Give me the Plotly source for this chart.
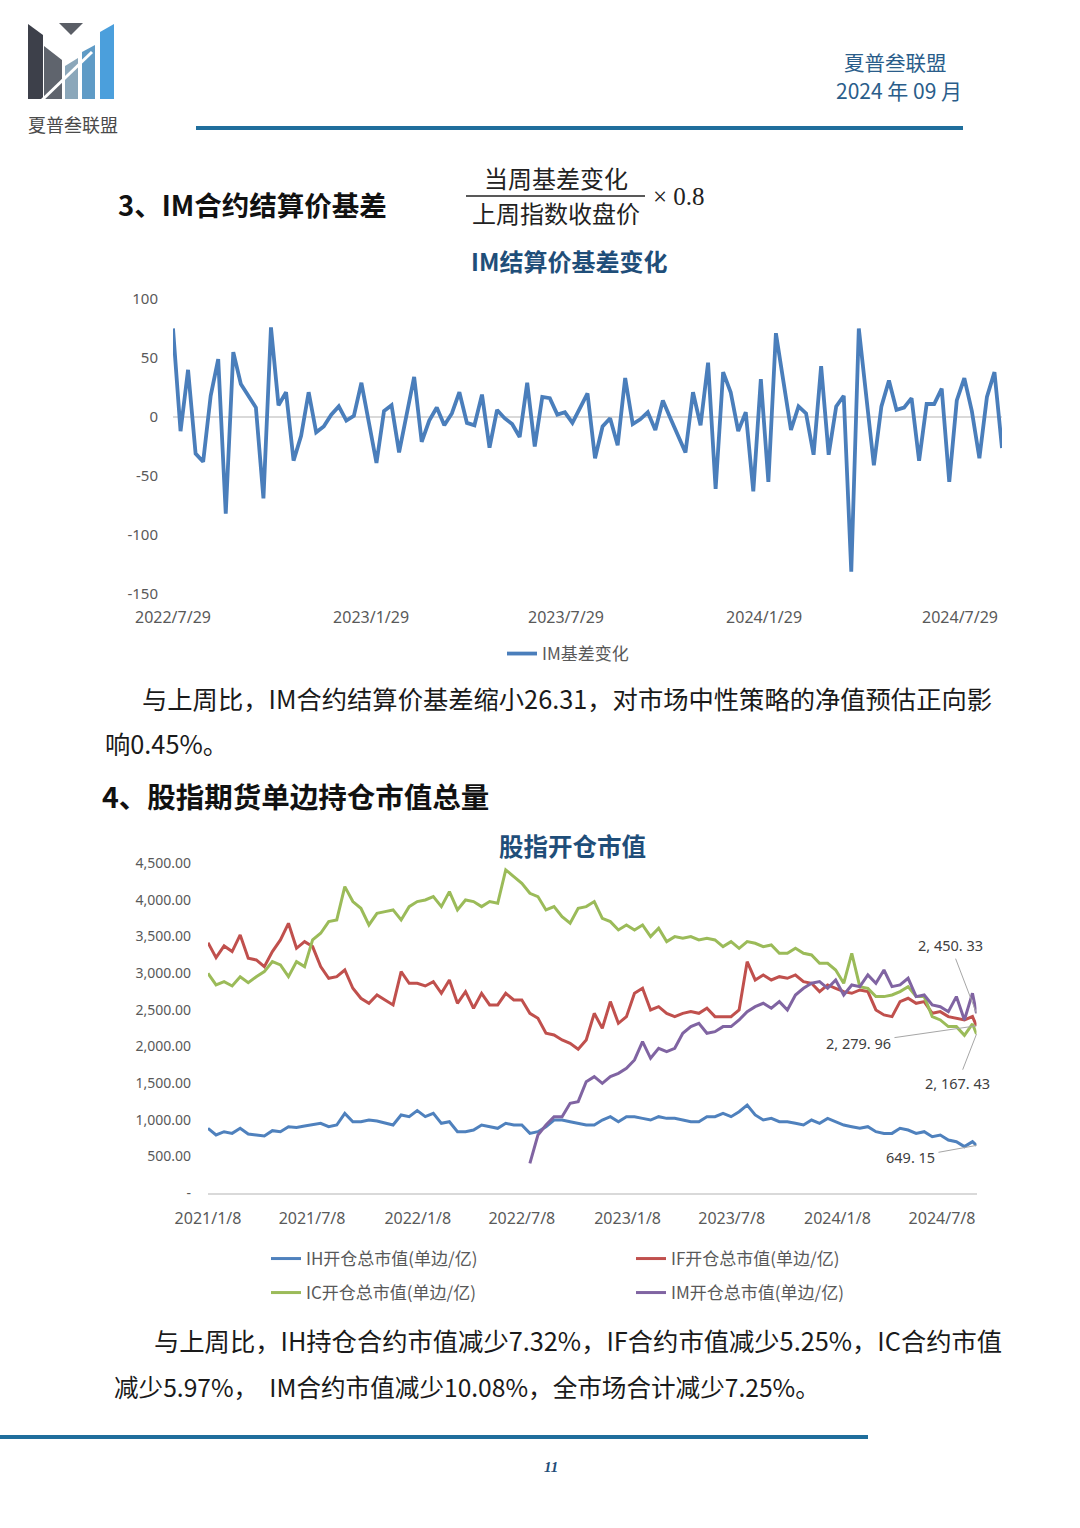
import plotly.graph_objects as go
import pandas as pd

W, H = 1080, 1528
CJK = "Noto Sans CJK SC"
LAT = "Noto Sans"

def px(x):
    return x / W

def py(y):
    return 1 - y / H

# ---------------- Chart 1 data: IM结算价基差变化 (weekly) ----------------
im_basis_dates = pd.date_range("2022-07-29", periods=111, freq="7D")
im_basis_change = [
    75, -12, 40, -31, -38, 18, 49, -82, 55, 28,
    18, 8, -69, 76, 10, 21, -37, -16, 21, -13,
    -8, 2, 9, -3, 1, 29, -5, -39, 5, 10,
    -30, 2, 34, -21, -3, 8, -7, 3, 21, -5,
    -7, 19, -26, 6, -1, -6, -17, 29, -25, 17,
    16, 2, 4, -5, 8, 20, -35, -8, -1, -24,
    33, -6, -2, 4, -11, 14, -1, -16, -30, 21,
    -7, 46, -61, 38, 21, -12, 4, -63, 32, -55,
    71, 30, -11, 9, 3, -32, 43, -32, 9, 18,
    -131, 75, 17, -41, 9, 31, 6, 8, 16, -37,
    11, 11, 24, -55, 14, 33, 5, -35, 17, 38,
    -26.31,
]
c1_tickvals = ["2022-07-29", "2023-01-29", "2023-07-29", "2024-01-29", "2024-07-29"]
c1_ticktext = ["2022/7/29", "2023/1/29", "2023/7/29", "2024/1/29", "2024/7/29"]
c1_yvals = [-150, -100, -50, 0, 50, 100]
c1_ytext = ["-150", "-100", "-50", "0", "50", "100"]

# ---------------- Chart 2 data: 股指开仓市值 (bi-weekly + latest) ----------------
pos_dates = list(pd.date_range("2021-01-08", periods=96, freq="14D")) + [pd.Timestamp("2024-09-06")]
ih_value = [
    882, 791, 836, 813, 882, 805, 791, 777, 850, 836,
    904, 895, 913, 927, 950, 904, 927, 1086, 972, 972,
    995, 982, 950, 927, 1064, 1041, 1123, 1041, 1086, 950,
    972, 836, 836, 859, 927, 904, 882, 950, 927, 927,
    813, 836, 904, 995, 995, 972, 950, 927, 927, 995,
    1041, 972, 1041, 1041, 1018, 995, 1041, 1018, 1018, 995,
    972, 972, 1041, 1041, 1086, 1041, 1109, 1200, 1064, 995,
    1018, 972, 972, 950, 927, 995, 950, 1018, 972, 927,
    904, 882, 904, 836, 813, 813, 882, 859, 813, 836,
    768, 791, 722, 700, 632, 700, 649.15,
]
if_value = [
    3414, 3210, 3369, 3292, 3519, 3201, 3178, 3087, 3292, 3451,
    3678, 3337, 3428, 3360, 3087, 2928, 2950, 3041, 2792, 2655,
    2587, 2700, 2632, 2564, 3019, 2860, 2860, 2823, 2882, 2723,
    2905, 2587, 2746, 2519, 2723, 2564, 2564, 2723, 2632, 2632,
    2450, 2382, 2178, 2155, 2087, 2041, 1960, 2087, 2450, 2246,
    2610, 2314, 2405, 2723, 2792, 2496, 2541, 2450, 2405, 2450,
    2473, 2450, 2519, 2405, 2405, 2405, 2496, 3155, 2905, 2973,
    2905, 2950, 2928, 2973, 2882, 2860, 2746, 2837, 2791, 2746,
    2723, 2769, 2746, 2496, 2428, 2405, 2610, 2655, 2587, 2610,
    2450, 2473, 2405, 2382, 2360, 2406, 2279.96,
]
ic_value = [
    2996, 2837, 2882, 2823, 2950, 2869, 2950, 3019, 3155, 3110,
    2950, 3155, 3087, 3451, 3542, 3701, 3724, 4178, 3974, 3883,
    3655, 3814, 3837, 3860, 3724, 3905, 3974, 3996, 4042, 3905,
    4110, 3860, 3996, 3974, 3905, 3974, 3951, 4406, 4315, 4224,
    4087, 4042, 3860, 3905, 3769, 3678, 3883, 3905, 3974, 3746,
    3701, 3587, 3655, 3587, 3655, 3496, 3610, 3428, 3496, 3473,
    3496, 3451, 3473, 3451, 3360, 3428, 3337, 3428, 3405, 3360,
    3383, 3269, 3269, 3337, 3269, 3246, 3132, 3132, 3041, 2860,
    3269, 2814, 2791, 2678, 2678, 2700, 2746, 2814, 2678, 2678,
    2405, 2360, 2269, 2269, 2150, 2305, 2167.43,
]
im_value = [
    404, 791, 927, 1041, 1041, 1223, 1246, 1518, 1587, 1496,
    1587, 1632, 1700, 1814, 2064, 1837, 1973, 1928, 1973, 2178,
    2269, 2314, 2178, 2200, 2269, 2269, 2360, 2473, 2541, 2587,
    2519, 2610, 2496, 2700, 2791, 2860, 2882, 2791, 2905, 2700,
    2837, 2814, 2973, 2860, 3041, 2814, 2837, 2928, 2678, 2700,
    2564, 2541, 2473, 2678, 2360, 2725, 2450.33,
]
im_dates = pos_dates[40:]
c2_tickvals = ["2021-01-08", "2021-07-08", "2022-01-08", "2022-07-08",
               "2023-01-08", "2023-07-08", "2024-01-08", "2024-07-08"]
c2_ticktext = ["2021/1/8", "2021/7/8", "2022/1/8", "2022/7/8",
               "2023/1/8", "2023/7/8", "2024/1/8", "2024/7/8"]
c2_yvals = [0, 500, 1000, 1500, 2000, 2500, 3000, 3500, 4000, 4500]
c2_ytext = ["-", "500.00", "1,000.00", "1,500.00", "2,000.00", "2,500.00",
            "3,000.00", "3,500.00", "4,000.00", "4,500.00"]

C_IH, C_IF, C_IC, C_IM = "#4f81bd", "#c0504d", "#9bbb59", "#8064a2"

fig = go.Figure()

fig.add_trace(go.Scatter(
    x=im_basis_dates, y=im_basis_change, mode="lines", name="IM基差变化",
    line=dict(color="#4a7ebb", width=3.8), xaxis="x", yaxis="y", legend="legend",
))

fig.add_trace(go.Scatter(x=pos_dates, y=ih_value, mode="lines", name="IH开仓总市值(单边/亿)",
                         line=dict(color=C_IH, width=3), xaxis="x2", yaxis="y2", legend="legend2"))
fig.add_trace(go.Scatter(x=pos_dates, y=if_value, mode="lines", name="IF开仓总市值(单边/亿)",
                         line=dict(color=C_IF, width=3), xaxis="x2", yaxis="y2", legend="legend2"))
fig.add_trace(go.Scatter(x=pos_dates, y=ic_value, mode="lines", name="IC开仓总市值(单边/亿)",
                         line=dict(color=C_IC, width=3), xaxis="x2", yaxis="y2", legend="legend3"))
fig.add_trace(go.Scatter(x=im_dates, y=im_value, mode="lines", name="IM开仓总市值(单边/亿)",
                         line=dict(color=C_IM, width=3), xaxis="x2", yaxis="y2", legend="legend3"))

xtickfont = dict(family=LAT, size=16, color="#595959")
ytickfont = dict(family=LAT, size=15, color="#595959")

annotations = []

def txt(x, y, text, size, color="#1a1a1a", xanchor="center", family=CJK):
    annotations.append(dict(
        x=px(x), y=py(y), xref="paper", yref="paper", text=text, showarrow=False,
        xanchor=xanchor, yanchor="middle", font=dict(family=family, size=size, color=color),
    ))

txt(73, 124, "夏普叁联盟", 18, "#4a4a4a")
txt(895, 62, "夏普叁联盟", 20.5, "#2a5d8a")
txt(899, 90, "2024 年 09 月", 21, "#2a5d8a")
txt(116, 204, "<b>3、IM合约结算价基差</b>", 27.5, "#111111", xanchor="left")
txt(556, 177, "当周基差变化", 24, "#222222")
txt(556, 212, "上周指数收盘价", 24, "#222222")
txt(679, 196, "× 0.8", 25, "#222222", family="Liberation Serif")
txt(569, 261, "<b>IM结算价基差变化</b>", 24, "#1f4e79")
txt(140, 698, "与上周比，IM合约结算价基差缩小26.31，对市场中性策略的净值预估正向影", 25.3, xanchor="left")
txt(103, 743, "响0.45%。", 25.3, xanchor="left")
txt(100, 795, "<b>4、股指期货单边持仓市值总量</b>", 28.5, "#111111", xanchor="left")
txt(572, 845, "<b>股指开仓市值</b>", 24.5, "#1f4e79")
txt(152, 1340, "与上周比，IH持仓合约市值减少7.32%，IF合约市值减少5.25%，IC合约市值", 25.3, xanchor="left")
txt(112, 1386, "减少5.97%，  IM合约市值减少10.08%，全市场合计减少7.25%。", 24.6, xanchor="left")
txt(551, 1467, "<b><i>11</i></b>", 15, "#1f4e79", family="Liberation Serif")

# data labels with leader lines for the latest values
def dlabel(xv, yv, text, ax, ay):
    annotations.append(dict(
        x=xv, y=yv, xref="x2", yref="y2", text=text, showarrow=True,
        arrowhead=0, arrowwidth=1, arrowcolor="#a6a6a6", ax=ax, ay=ay,
        standoff=0, startstandoff=2,
        font=dict(family=LAT, size=14.5, color="#404040"),
    ))

last = pos_dates[-1]
dlabel(last, im_value[-1], "2, 450. 33", -26, -68)
dlabel(last, if_value[-1], "2, 279. 96", -118, 17)
dlabel(last, ic_value[-1], "2, 167. 43", -19, 49)
dlabel(last, ih_value[-1], "649. 15", -66, 12)

shapes = []

def hline(x0, x1, y, color, width):
    shapes.append(dict(type="line", xref="paper", yref="paper",
                       x0=px(x0), x1=px(x1), y0=py(y), y1=py(y),
                       line=dict(color=color, width=width)))

hline(196, 963, 128, "#1f6e9c", 4)
hline(0, 868, 1437, "#1f6e9c", 4)
hline(466, 645, 196, "#222222", 1.5)

def poly(points, color):
    path = "M " + " L ".join(f"{px(x):.5f},{py(y):.5f}" for x, y in points) + " Z"
    shapes.append(dict(type="path", xref="paper", yref="paper", path=path,
                       fillcolor=color, line=dict(width=0)))

# logo
poly([(28, 24), (43, 35), (43, 99), (28, 99)], "#3d404a")
poly([(44, 46), (62, 60), (62, 99), (44, 99)], "#5f646d")
poly([(65, 66), (78, 58), (78, 99), (65, 99)], "#8ba7ba")
poly([(82, 52), (95, 45), (95, 99), (82, 99)], "#5f9bc6")
poly([(100, 32), (114, 24), (114, 99), (100, 99)], "#4b9fdc")
poly([(59, 23), (83, 23), (71, 35)], "#5a5e66")
shapes.append(dict(type="line", xref="paper", yref="paper",
                   x0=px(41), y0=py(101), x1=px(92), y1=py(52),
                   line=dict(color="white", width=3)))

legend_font = dict(family=CJK, size=17, color="#595959")

fig.update_layout(
    width=W, height=H, autosize=False,
    margin=dict(l=0, r=0, t=0, b=0, pad=0, autoexpand=False),
    paper_bgcolor="white", plot_bgcolor="white",
    showlegend=True,
    xaxis=dict(domain=[px(173), px(1002)], range=["2022-07-29", "2024-09-06"], type="date",
               tickvals=c1_tickvals, ticktext=c1_ticktext, showgrid=False, showline=False,
               zeroline=False, ticks="", tickfont=xtickfont, ticklabelstandoff=12,
               anchor="y"),
    yaxis=dict(domain=[py(594), py(299)], range=[-150, 100],
               tickvals=c1_yvals, ticktext=c1_ytext, showgrid=False, showline=False,
               zeroline=True, zerolinecolor="#d9d9d9", zerolinewidth=1.5,
               ticks="", tickfont=ytickfont, ticklabelstandoff=14, anchor="x"),
    xaxis2=dict(domain=[px(208), px(976.5)], range=["2021-01-08", "2024-09-06"], type="date",
                tickvals=c2_tickvals, ticktext=c2_ticktext, showgrid=False,
                showline=True, linecolor="#d9d9d9", linewidth=1.5, zeroline=False,
                ticks="", tickfont=xtickfont, ticklabelstandoff=10, anchor="y2"),
    yaxis2=dict(domain=[py(1193), py(863)], range=[0, 4500],
                tickvals=c2_yvals, ticktext=c2_ytext, showgrid=False, showline=False,
                zeroline=False, ticks="", tickfont=dict(family=LAT, size=14, color="#595959"),
                ticklabelstandoff=16, anchor="x2"),
    legend=dict(x=px(502), y=py(654), xanchor="left", yanchor="middle",
                orientation="h", font=legend_font, bgcolor="rgba(0,0,0,0)"),
    legend2=dict(x=px(266), y=py(1259), xanchor="left", yanchor="middle",
                 orientation="h", font=legend_font, bgcolor="rgba(0,0,0,0)",
                 entrywidth=320, entrywidthmode="pixels"),
    legend3=dict(x=px(266), y=py(1293), xanchor="left", yanchor="middle",
                 orientation="h", font=legend_font, bgcolor="rgba(0,0,0,0)",
                 entrywidth=320, entrywidthmode="pixels"),
    annotations=annotations,
    shapes=shapes,
)

fig.write_html("out.html")
